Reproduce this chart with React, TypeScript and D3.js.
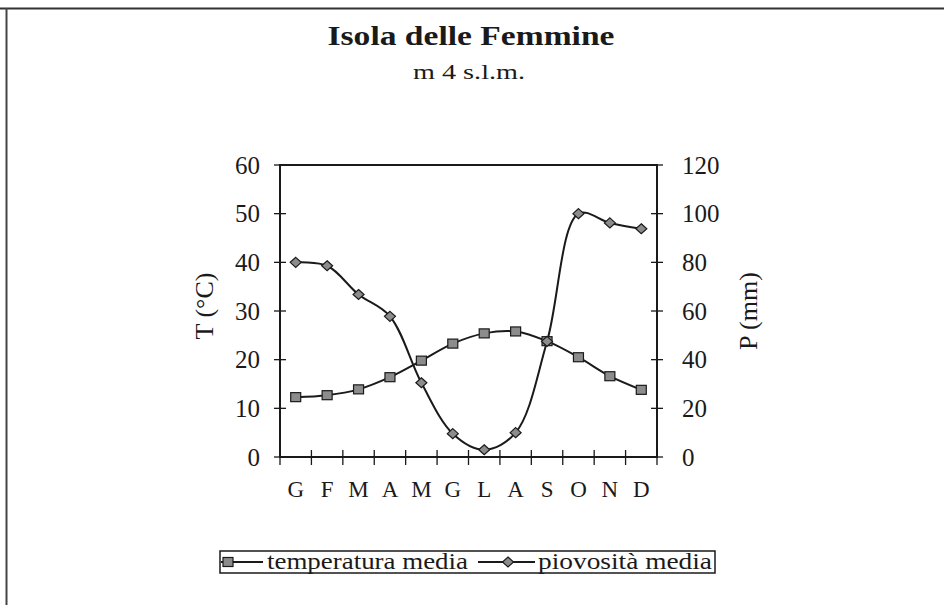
import React from "react";
import * as d3 from "d3";

const months = ["G", "F", "M", "A", "M", "G", "L", "A", "S", "O", "N", "D"];
const temperature = [12.3, 12.7, 13.9, 16.4, 19.8, 23.3, 25.4, 25.8, 23.8, 20.5, 16.6, 13.8];
const precipitation = [80, 78.6, 66.8, 57.8, 30.5, 9.6, 3, 10, 47.5, 100, 96.2, 93.8];
const tTicks = [0, 10, 20, 30, 40, 50, 60];
const pTicks = [0, 20, 40, 60, 80, 100, 120];
const title = "Isola delle Femmine";
const subtitle = "m 4 s.l.m.";
const yLabelLeft = "T (°C)";
const yLabelRight = "P (mm)";
const legendLabels = ["temperatura media", "piovosità media"];

const W = 944;
const H = 605;
const L = 280;
const R = 657;
const T = 165;
const B = 457;
const FONT = "'Liberation Serif', 'Times New Roman', serif";
const INK = "#1a1a1a";
const MARK = "#8c8c8c";

function Square({ x, y }: { x: number; y: number }) {
  return <rect x={x - 5} y={y - 4.5} width={10} height={9} fill={MARK} stroke={INK} strokeWidth={1.2} />;
}
function Diamond({ x, y }: { x: number; y: number }) {
  const p = `${x},${y - 5} ${x + 5.5},${y} ${x},${y + 5} ${x - 5.5},${y}`;
  return <polygon points={p} fill={MARK} stroke={INK} strokeWidth={1.2} />;
}

export default function App() {
  const idx = months.map((_, i) => i);
  const x = d3.scaleBand<number>().domain(idx).range([L, R]);
  const cx = (i: number) => (x(i) as number) + x.bandwidth() / 2;
  const yT = d3.scaleLinear().domain([0, 60]).range([B, T]);
  const yP = d3.scaleLinear().domain([0, 120]).range([B, T]);

  const lineT = d3
    .line<number>()
    .x((_, i) => cx(i))
    .y((d) => yT(d))
    .curve(d3.curveCatmullRom.alpha(0.5));
  const lineP = d3
    .line<number>()
    .x((_, i) => cx(i))
    .y((d) => yP(d))
    .curve(d3.curveCatmullRom.alpha(0.5));

  const xTickPos = idx.map((i) => x(i) as number).concat([R]);

  return (
    <svg
      width={W}
      height={H}
      style={{ position: "absolute", left: 0, top: 0, background: "#fff" }}
      fontFamily={FONT}
    >
      <rect x={0} y={0} width={W} height={H} fill="#fff" />
      {/* page frame */}
      <line x1={0} x2={W} y1={8.5} y2={8.5} stroke="#333" strokeWidth={2} />
      <line x1={6.5} x2={6.5} y1={8} y2={H} stroke="#444" strokeWidth={2} />

      {/* titles */}
      <text x={471} y={45} textAnchor="middle" fontSize={27} fontWeight="bold" fill={INK}
        textLength={287} lengthAdjust="spacingAndGlyphs">{title}</text>
      <text x={469} y={79} textAnchor="middle" fontSize={21} fill={INK}
        textLength={112} lengthAdjust="spacingAndGlyphs">{subtitle}</text>

      {/* plot frame */}
      <rect x={L} y={T} width={R - L} height={B - T} fill="none" stroke={INK} strokeWidth={2} />

      {/* left axis */}
      {tTicks.map((t) => (
        <g key={"lt" + t}>
          <line x1={L - 6} x2={L + 6} y1={yT(t)} y2={yT(t)} stroke={INK} strokeWidth={1.3} />
          <text x={260} y={yT(t)} dy="0.35em" textAnchor="end" fontSize={25} fill={INK}>{t}</text>
        </g>
      ))}
      {/* right axis */}
      {pTicks.map((t) => (
        <g key={"rt" + t}>
          <line x1={R - 6} x2={R + 6} y1={yP(t)} y2={yP(t)} stroke={INK} strokeWidth={1.3} />
          <text x={682} y={yP(t)} dy="0.35em" textAnchor="start" fontSize={25} fill={INK}>{t}</text>
        </g>
      ))}
      {/* bottom ticks */}
      {xTickPos.map((px, i) => (
        <line key={"bt" + i} x1={px} x2={px} y1={B - 7} y2={B + 8} stroke={INK} strokeWidth={1.3} />
      ))}
      {months.map((m, i) => (
        <text key={"m" + i} x={cx(i)} y={497} textAnchor="middle" fontSize={23} fill={INK}>{m}</text>
      ))}

      {/* axis titles */}
      <text transform={`translate(213,306) rotate(-90)`} textAnchor="middle" fontSize={26} fill={INK}>{yLabelLeft}</text>
      <text transform={`translate(757,311) rotate(-90)`} textAnchor="middle" fontSize={26} fill={INK}>{yLabelRight}</text>

      {/* series */}
      <path d={lineT(temperature) || ""} fill="none" stroke={INK} strokeWidth={2} />
      <path d={lineP(precipitation) || ""} fill="none" stroke={INK} strokeWidth={2} />
      {temperature.map((v, i) => <Square key={"s" + i} x={cx(i)} y={yT(v)} />)}
      {precipitation.map((v, i) => <Diamond key={"d" + i} x={cx(i)} y={yP(v)} />)}

      {/* legend */}
      <rect x={220} y={551} width={495} height={22} fill="#fff" stroke={INK} strokeWidth={1.5} />
      <line x1={221} x2={263} y1={562} y2={562} stroke={INK} strokeWidth={2} />
      <Square x={228} y={562} />
      <text x={267} y={569} fontSize={24} fill={INK} textLength={201} lengthAdjust="spacingAndGlyphs">{legendLabels[0]}</text>
      <line x1={478} x2={535} y1={562} y2={562} stroke={INK} strokeWidth={2} />
      <Diamond x={508} y={562} />
      <text x={538} y={569} fontSize={24} fill={INK} textLength={174} lengthAdjust="spacingAndGlyphs">{legendLabels[1]}</text>
    </svg>
  );
}
